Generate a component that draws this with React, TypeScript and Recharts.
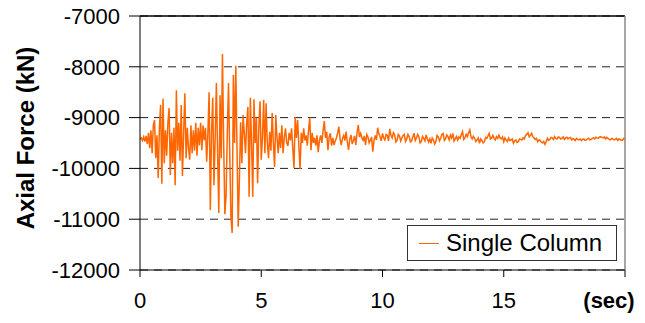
import { LineChart, Line, XAxis, YAxis, CartesianGrid, ReferenceLine, Legend } from "recharts";

// axial force (kN) sampled every 0.05 s from 0 to 20 s
const sampleStep = 0.05;
const force0to8 = [
  -9420, -9400, -9450, -9380, -9470, -9360, -9520, -9300, -9600, -9250,
  -9700, -9150, -9050, -9800, -9350, -10190, -9200, -8750, -10300, -8630,
  -9900, -9250, -9750, -9100, -8810, -10130, -9300, -9900, -9200, -10330,
  -8460, -9650, -9100, -9850, -8750, -10150, -9300, -8520, -9800, -9200,
  -9600, -9830, -9150, -9700, -9250, -9650, -9100, -9750, -9200, -9550,
  -9100, -9640, -9150, -9450, -9200, -9870, -9300, -8500, -10820, -9300,
  -8610, -10330, -9400, -8320, -9700, -10880, -8560, -9800, -7750, -9500,
  -10900, -10530, -9300, -8320, -9700, -10950, -11270, -8160, -9500, -7980,
  -9600, -11150, -10190, -9090, -9900, -8950, -9300, -9700, -9100, -8790,
  -10560, -8610, -9500, -10560, -8640, -9500, -9000, -10290, -9200, -8680,
  -9830, -9400, -8650, -9700, -8720, -9500, -9800, -9280, -9650, -8910,
  -9500, -9970, -8950, -9400, -9700, -9300, -9600, -9150, -9700, -9400,
  -9210, -9500, -9560, -9300, -9450, -9210, -9600, -9990, -8990, -9400,
  -9050, -9550, -10010, -9300, -9500, -9210, -9450, -9350, -9550, -9250,
  -9000, -9640, -9300, -9500, -9400, -9550, -9350, -9680, -9450, -9350,
  -9500, -9250, -9070, -9400, -9280, -9640, -9380, -9310, -9550, -9400,
];
const force8to20 = [
  -9540, -9460, -9400, -9300, -9180, -9420, -9540, -9410, -9350, -9450, -9277, -9480, -9638, -9420, -9340, -9520, -9450, -9360, -9539, -9300,
  -9146, -9380, -9310, -9400, -9450, -9360, -9539, -9330, -9380, -9500, -9441, -9380, -9671, -9450, -9350, -9440, -9200, -9320, -9375, -9460,
  -9310, -9400, -9441, -9330, -9350, -9460, -9220, -9350, -9400, -9300, -9340, -9480, -9450, -9330, -9360, -9460, -9400, -9350, -9330, -9470,
  -9420, -9330, -9375, -9480, -9460, -9380, -9310, -9450, -9400, -9330, -9375, -9500, -9474, -9370, -9408, -9460, -9343, -9420, -9480, -9420,
  -9506, -9400, -9441, -9520, -9474, -9350, -9380, -9460, -9408, -9330, -9310, -9450, -9420, -9340, -9375, -9440, -9343, -9400, -9310, -9460,
  -9420, -9370, -9441, -9380, -9408, -9340, -9277, -9430, -9400, -9330, -9375, -9300, -9244, -9380, -9420, -9370, -9408, -9470, -9440, -9400,
  -9506, -9420, -9450, -9500, -9474, -9390, -9408, -9360, -9310, -9420, -9400, -9350, -9408, -9440, -9375, -9410, -9343, -9400, -9420, -9380,
  -9474, -9400, -9441, -9470, -9400, -9450, -9441, -9420, -9506, -9460, -9441, -9490, -9474, -9420, -9428, -9440, -9400, -9420, -9350, -9330,
  -9296, -9380, -9350, -9310, -9375, -9400, -9430, -9410, -9474, -9440, -9450, -9480, -9500, -9470, -9525, -9470, -9408, -9450, -9430, -9390,
  -9400, -9430, -9375, -9410, -9420, -9380, -9390, -9420, -9408, -9380, -9430, -9400, -9388, -9420, -9400, -9390, -9440, -9410, -9428, -9450,
  -9410, -9430, -9440, -9420, -9454, -9430, -9420, -9450, -9440, -9420, -9408, -9440, -9430, -9410, -9400, -9420, -9388, -9400, -9410, -9380,
  -9375, -9390, -9400, -9380, -9420, -9390, -9408, -9430, -9440, -9410, -9420, -9440, -9428, -9410, -9450, -9420, -9430, -9450, -9441, -9410,
  -9420,
];

const xTicks = [0, 5, 10, 15, 20];
const yTicks = [-12000, -11000, -10000, -9000, -8000, -7000];

const data = [...force0to8, ...force8to20].map((f, i) => ({
  t: +(i * sampleStep).toFixed(2),
  force: f,
}));

const font = "'Liberation Sans', Arial, sans-serif";

const XTick = (props: any) => {
  const { x, y, payload } = props;
  if (payload.value === 20) {
    return (
      <text x={x - 16} y={y} dy="0.71em" textAnchor="middle" fontSize={22} fontWeight="bold" fill="#000" fontFamily={font}>
        (sec)
      </text>
    );
  }
  return (
    <text x={x} y={y} dy="0.71em" textAnchor="middle" fontSize={22} fill="#000" fontFamily={font}>
      {payload.value}
    </text>
  );
};

const LegendBox = () => (
  <div
    style={{
      width: 208,
      height: 34,
      border: "1px solid #333",
      background: "#fff",
      display: "flex",
      alignItems: "center",
      fontFamily: font,
      fontSize: 24,
      color: "#000",
    }}
  >
    <span style={{ display: "inline-block", width: 20, height: 0, borderTop: "1.5px solid #FF6600", marginLeft: 11, marginRight: 7 }} />
    Single Column
  </div>
);

const App = () => {
  return (
    <div style={{ position: "absolute", left: 0, top: 0 }}>
      <LineChart width={645} height={323} data={data} margin={{ top: 16, right: 20, bottom: 0, left: 0 }} style={{ fontFamily: font }}>
        <CartesianGrid vertical={false} stroke="#222" strokeDasharray="8 6" />
        <XAxis
          type="number"
          dataKey="t"
          domain={[0, 20]}
          ticks={xTicks}
          height={53}
          stroke="#000"
          tickSize={7}
          tickMargin={15}
          tick={<XTick />}
        />
        <YAxis
          type="number"
          domain={[-12000, -7000]}
          ticks={yTicks}
          width={140}
          stroke="#000"
          tickSize={11}
          tickMargin={9}
          tick={{ fontSize: 22, fill: "#000", fontFamily: font }}
          label={{
            content: () => (
              <text x={25} y={138} transform="rotate(-90 25 138)" textAnchor="middle" dominantBaseline="central" fontSize={24} fontWeight="bold" fill="#000" fontFamily={font}>
                Axial Force (kN)
              </text>
            ),
          }}
        />
        <ReferenceLine y={-7000} stroke="#000" strokeWidth={1.5} />
        <ReferenceLine x={20} stroke="#888" strokeWidth={1.5} />
        <Line type="linear" dataKey="force" name="Single Column" stroke="#FF6600" strokeWidth={1.5} dot={false} isAnimationActive={false} />
        <Legend
          layout="horizontal"
          verticalAlign="middle"
          align="center"
          content={<LegendBox />}
          wrapperStyle={{ left: 407, top: 225, width: 210 }}
        />
      </LineChart>
    </div>
  );
};

export default App;
